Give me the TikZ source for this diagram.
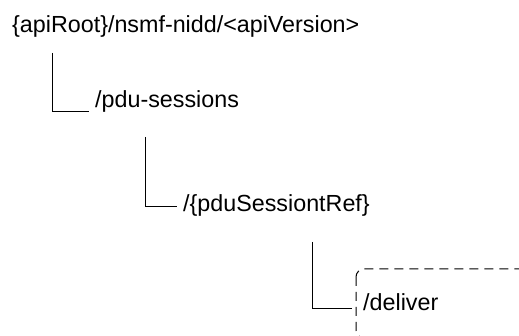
\documentclass[tikz,border=0pt]{standalone}
\usepackage{fontspec}
\setmainfont{Liberation Sans}
\begin{document}
\begin{tikzpicture}[x=1pt,y=-1pt,
  lbl/.style={inner sep=0pt, anchor=base west, font=\fontsize{23.3}{27}\selectfont},
  conn/.style={line width=1pt},
  dashbox/.style={line width=1pt, dash pattern=on 9pt off 6pt, rounded corners=8pt}]
\useasboundingbox (0,0) rectangle (519,336);
\clip (0,0) rectangle (519,336);
\node[lbl] (root) at (12,33) {\{apiRoot\}/nsmf-nidd/<apiVersion>};
\node[lbl] (pdu) at (95,108) {/pdu-sessions};
\node[lbl] (ref) at (183,212) {/\{pduSessiontRef\}};
\node[lbl] (del) at (363,311) {/deliver};
\coordinate (a1) at (52.5,53);
\coordinate (b1) at (89,112);
\coordinate (a2) at (145,137);
\coordinate (b2) at (177,207);
\coordinate (a3) at (312.5,242);
\coordinate (b3) at (352,308.5);
\draw[conn] (a1) |- (b1);
\draw[conn] (a2) |- (b2);
\draw[conn] (a3) |- (b3);
\coordinate (boxtl) at (356,269);
\coordinate (boxbr) at (545,338);
\draw[dashbox] (boxtl) rectangle (boxbr);
\end{tikzpicture}
\end{document}
